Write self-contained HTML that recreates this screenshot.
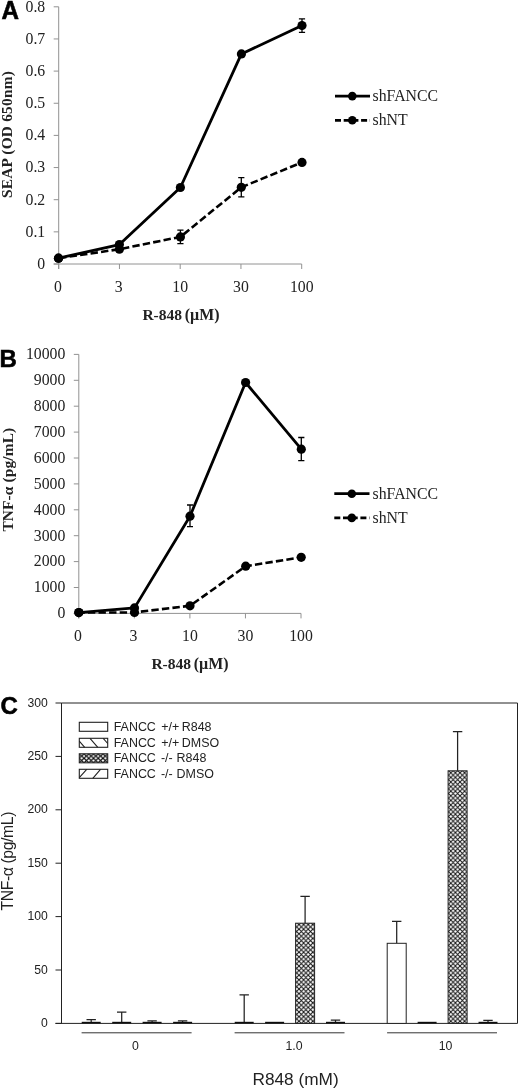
<!DOCTYPE html><html><head><meta charset="utf-8"><style>html,body{margin:0;padding:0;background:#fff;overflow:hidden}svg{display:block}text{font-family:"Liberation Serif",serif;fill:#222}.s{font-family:"Liberation Sans",sans-serif}</style></head><body>
<svg width="520" height="1091" viewBox="0 0 520 1091">
<defs>
<pattern id="xh" width="4.6" height="4.6" patternUnits="userSpaceOnUse"><rect width="4.6" height="4.6" fill="#fff"/><path d="M0 0L4.6 4.6M4.6 0L0 4.6" stroke="#111" stroke-width="1"/></pattern>
<pattern id="xh2" x="79.3" y="753.8" width="4.73" height="4.5" patternUnits="userSpaceOnUse"><rect width="4.73" height="4.5" fill="#fff"/><path d="M0 0L4.73 4.5M4.73 0L0 4.5" stroke="#111" stroke-width="1.15"/></pattern>
<filter id="bl" x="0" y="0" width="520" height="1091" filterUnits="userSpaceOnUse"><feGaussianBlur stdDeviation="0.35"/></filter>
</defs>
<g filter="url(#bl)"><rect width="520" height="1091" fill="#fff"/>
<path d="M58.7 6.800000000000011V269.0M53.7 264.0H301.7" stroke="#929292" stroke-width="1" fill="none"/>
<path d="M53.7 264.00H58.7M53.7 231.85H58.7M53.7 199.70H58.7M53.7 167.55H58.7M53.7 135.40H58.7M53.7 103.25H58.7M53.7 71.10H58.7M53.7 38.95H58.7M53.7 6.80H58.7M58.70 264.0V269.0M119.45 264.0V269.0M180.20 264.0V269.0M240.95 264.0V269.0M301.70 264.0V269.0" stroke="#929292" stroke-width="1" fill="none"/>
<text x="45.2" y="268.80" font-size="15.75" text-anchor="end">0</text>
<text x="45.2" y="236.65" font-size="15.75" text-anchor="end">0.1</text>
<text x="45.2" y="204.50" font-size="15.75" text-anchor="end">0.2</text>
<text x="45.2" y="172.35" font-size="15.75" text-anchor="end">0.3</text>
<text x="45.2" y="140.20" font-size="15.75" text-anchor="end">0.4</text>
<text x="45.2" y="108.05" font-size="15.75" text-anchor="end">0.5</text>
<text x="45.2" y="75.90" font-size="15.75" text-anchor="end">0.6</text>
<text x="45.2" y="43.75" font-size="15.75" text-anchor="end">0.7</text>
<text x="45.2" y="11.60" font-size="15.75" text-anchor="end">0.8</text>
<text x="57.90" y="291.6" font-size="15.75" text-anchor="middle">0</text>
<text x="118.65" y="291.6" font-size="15.75" text-anchor="middle">3</text>
<text x="180.20" y="291.6" font-size="15.75" text-anchor="middle">10</text>
<text x="240.95" y="291.6" font-size="15.75" text-anchor="middle">30</text>
<text x="301.70" y="291.6" font-size="15.75" text-anchor="middle">100</text>
<path d="M58.5 258.2L119.4 249.2L180.4 236.9L241.3 187.3L302.0 162.4" stroke="#000" stroke-width="2.6" fill="none" stroke-linejoin="round" stroke-dasharray="7.4 3.2" stroke-dashoffset="10"/>
<path d="M180.4 230.2V243.7M177.3 230.2h6.2M177.3 243.7h6.2" stroke="#000" stroke-width="1.3" fill="none"/>
<path d="M241.3 177.7V196.8M238.20000000000002 177.7h6.2M238.20000000000002 196.8h6.2" stroke="#000" stroke-width="1.3" fill="none"/>
<circle cx="58.5" cy="258.2" r="4.6" fill="#000"/>
<circle cx="119.4" cy="249.2" r="4.6" fill="#000"/>
<circle cx="180.4" cy="236.9" r="4.6" fill="#000"/>
<circle cx="241.3" cy="187.3" r="4.6" fill="#000"/>
<circle cx="302.0" cy="162.4" r="4.6" fill="#000"/>
<path d="M58.5 258.2L119.4 244.6L180.4 187.5L241.4 53.9L302.0 25.5" stroke="#000" stroke-width="2.8" fill="none" stroke-linejoin="round"/>
<path d="M302.0 18.8V32.3M298.9 18.8h6.2M298.9 32.3h6.2" stroke="#000" stroke-width="1.3" fill="none"/>
<circle cx="58.5" cy="258.2" r="4.6" fill="#000"/>
<circle cx="119.4" cy="244.6" r="4.6" fill="#000"/>
<circle cx="180.4" cy="187.5" r="4.6" fill="#000"/>
<circle cx="241.4" cy="53.9" r="4.6" fill="#000"/>
<circle cx="302.0" cy="25.5" r="4.6" fill="#000"/>
<path d="M335 96.1H370" stroke="#000" stroke-width="2.7"/>
<circle cx="352.3" cy="96.1" r="4.3" fill="#000"/>
<text x="372.5" y="101.1" font-size="15.8">shFANCC</text>
<path d="M335 120.3H370" stroke="#000" stroke-width="2.7" stroke-dasharray="6 2.7"/>
<circle cx="352.3" cy="120.3" r="4.3" fill="#000"/>
<text x="372.5" y="125.3" font-size="15.8">shNT</text>
<text transform="translate(1.4 18.6) scale(1 1.045)" font-size="24.2" font-weight="bold" class="s" style="fill:#000" stroke="#000" stroke-width="0.55">A</text>
<text transform="translate(12 198) rotate(-90)" font-size="15.4" font-weight="bold" letter-spacing="0.2">SEAP (OD 650nm)</text>
<text x="142.4" y="320" font-size="15.55" font-weight="bold">R-848</text><text x="219.5" y="320" font-size="15.9" font-weight="bold" text-anchor="end">(µM)</text>
<path d="M78.8 354.4V618.4M73.8 613.4H301.0" stroke="#929292" stroke-width="1" fill="none"/>
<path d="M73.8 613.40H78.8M73.8 587.50H78.8M73.8 561.60H78.8M73.8 535.70H78.8M73.8 509.80H78.8M73.8 483.90H78.8M73.8 458.00H78.8M73.8 432.10H78.8M73.8 406.20H78.8M73.8 380.30H78.8M73.8 354.40H78.8M78.80 613.4V618.4M134.35 613.4V618.4M189.90 613.4V618.4M245.45 613.4V618.4M301.00 613.4V618.4" stroke="#929292" stroke-width="1" fill="none"/>
<text x="65.3" y="618.20" font-size="15.75" text-anchor="end">0</text>
<text x="65.3" y="592.30" font-size="15.75" text-anchor="end">1000</text>
<text x="65.3" y="566.40" font-size="15.75" text-anchor="end">2000</text>
<text x="65.3" y="540.50" font-size="15.75" text-anchor="end">3000</text>
<text x="65.3" y="514.60" font-size="15.75" text-anchor="end">4000</text>
<text x="65.3" y="488.70" font-size="15.75" text-anchor="end">5000</text>
<text x="65.3" y="462.80" font-size="15.75" text-anchor="end">6000</text>
<text x="65.3" y="436.90" font-size="15.75" text-anchor="end">7000</text>
<text x="65.3" y="411.00" font-size="15.75" text-anchor="end">8000</text>
<text x="65.3" y="385.10" font-size="15.75" text-anchor="end">9000</text>
<text x="65.3" y="359.20" font-size="15.75" text-anchor="end">10000</text>
<text x="78.00" y="641.0" font-size="15.75" text-anchor="middle">0</text>
<text x="133.55" y="641.0" font-size="15.75" text-anchor="middle">3</text>
<text x="189.90" y="641.0" font-size="15.75" text-anchor="middle">10</text>
<text x="245.45" y="641.0" font-size="15.75" text-anchor="middle">30</text>
<text x="301.00" y="641.0" font-size="15.75" text-anchor="middle">100</text>
<path d="M78.8 612.6L134.5 612.4L190.0 605.8L245.7 566.2L301.2 557.3" stroke="#000" stroke-width="2.6" fill="none" stroke-linejoin="round" stroke-dasharray="7.4 3.2" stroke-dashoffset="1.5"/>
<circle cx="78.8" cy="612.6" r="4.6" fill="#000"/>
<circle cx="134.5" cy="612.4" r="4.6" fill="#000"/>
<circle cx="190.0" cy="605.8" r="4.6" fill="#000"/>
<circle cx="245.7" cy="566.2" r="4.6" fill="#000"/>
<circle cx="301.2" cy="557.3" r="4.6" fill="#000"/>
<path d="M78.8 612.6L134.5 607.9L190.0 516.2L245.6 382.5L301.3 449.2" stroke="#000" stroke-width="2.8" fill="none" stroke-linejoin="round"/>
<path d="M190 505V526.7M187.0 505h6M187.0 526.7h6" stroke="#000" stroke-width="1.3" fill="none"/>
<path d="M301.3 437.5V460.6M298.2 437.5h6.2M298.2 460.6h6.2" stroke="#000" stroke-width="1.3" fill="none"/>
<circle cx="78.8" cy="612.6" r="4.6" fill="#000"/>
<circle cx="134.5" cy="607.9" r="4.6" fill="#000"/>
<circle cx="190.0" cy="516.2" r="4.6" fill="#000"/>
<circle cx="245.6" cy="382.5" r="4.6" fill="#000"/>
<circle cx="301.3" cy="449.2" r="4.6" fill="#000"/>
<path d="M334.3 493.7H369.5" stroke="#000" stroke-width="2.7"/>
<circle cx="351.8" cy="493.7" r="4.3" fill="#000"/>
<text x="372.5" y="498.7" font-size="15.8">shFANCC</text>
<path d="M334.3 517.9H369.5" stroke="#000" stroke-width="2.7" stroke-dasharray="6 2.7"/>
<circle cx="351.8" cy="517.9" r="4.3" fill="#000"/>
<text x="372.5" y="522.9" font-size="15.8">shNT</text>
<text x="-0.6" y="366.8" font-size="24" font-weight="bold" class="s" style="fill:#000" stroke="#000" stroke-width="0.55">B</text>
<text transform="translate(12.6 531.6) rotate(-90)" font-size="15.4" font-weight="bold" letter-spacing="0.13">TNF-α (pg/mL)</text>
<text x="151.4" y="669" font-size="15.55" font-weight="bold">R-848</text><text x="228.5" y="669" font-size="15.9" font-weight="bold" text-anchor="end">(µM)</text>
<path d="M61.5 1023.4V703H517.5V1023.4" stroke="#222" stroke-width="1" fill="none"/>
<path d="M55.5 1023.4H517.5" stroke="#222" stroke-width="1" fill="none"/>
<text class="s" x="47.9" y="1026.90" font-size="12.2" text-anchor="end">0</text>
<text class="s" x="47.9" y="973.50" font-size="12.2" text-anchor="end">50</text>
<text class="s" x="47.9" y="920.10" font-size="12.2" text-anchor="end">100</text>
<text class="s" x="47.9" y="866.70" font-size="12.2" text-anchor="end">150</text>
<text class="s" x="47.9" y="813.30" font-size="12.2" text-anchor="end">200</text>
<text class="s" x="47.9" y="759.90" font-size="12.2" text-anchor="end">250</text>
<text class="s" x="47.9" y="706.50" font-size="12.2" text-anchor="end">300</text>
<path d="M55.5 1023.40H61.5M55.5 970.00H61.5M55.5 916.60H61.5M55.5 863.20H61.5M55.5 809.80H61.5M55.5 756.40H61.5M55.5 703.00H61.5" stroke="#222" stroke-width="1" fill="none"/>
<text x="0.5" y="714.1" font-size="24" font-weight="bold" class="s" style="fill:#000" stroke="#000" stroke-width="0.55">C</text>
<text class="s" transform="translate(13.4 910.6) rotate(-90)" font-size="15.8" letter-spacing="-0.4">TNF-α (pg/mL)</text>
<text class="s" x="295.6" y="1085.3" font-size="17.25" text-anchor="middle">R848 (mM)</text>
<path d="M91.2 1022.7V1019.5M86.5 1019.5h9.4" stroke="#222" stroke-width="1.25" fill="none"/>
<rect x="81.7" y="1021.8" width="19.0" height="1.6" fill="#111"/>
<path d="M121.7 1022.7V1012.2M117.0 1012.2h9.4" stroke="#222" stroke-width="1.25" fill="none"/>
<rect x="112.2" y="1021.8" width="19.0" height="1.6" fill="#111"/>
<path d="M152.1 1022.7V1020.8M147.4 1020.8h9.4" stroke="#222" stroke-width="1.25" fill="none"/>
<rect x="142.6" y="1021.8" width="19.0" height="1.6" fill="#111"/>
<path d="M182.6 1022.7V1020.8M177.9 1020.8h9.4" stroke="#222" stroke-width="1.25" fill="none"/>
<rect x="173.1" y="1021.8" width="19.0" height="1.6" fill="#111"/>
<path d="M81.6 1032.8H191.6" stroke="#333" stroke-width="1"/>
<path d="M244.2 1022.7V994.8M239.5 994.8h9.4" stroke="#222" stroke-width="1.25" fill="none"/>
<rect x="234.7" y="1021.8" width="19.0" height="1.6" fill="#111"/>
<rect x="265.1" y="1021.8" width="19.0" height="1.6" fill="#111"/>
<path d="M305.1 923.2V896.3M300.4 896.3h9.4" stroke="#222" stroke-width="1.25" fill="none"/>
<rect x="295.6" y="923.2" width="19.0" height="100.2" fill="url(#xh)" stroke="#222" stroke-width="1"/>
<path d="M335.5 1022.7V1020M330.8 1020h9.4" stroke="#222" stroke-width="1.25" fill="none"/>
<rect x="326.0" y="1021.8" width="19.0" height="1.6" fill="#111"/>
<path d="M234.6 1032.8H344.5" stroke="#333" stroke-width="1"/>
<path d="M396.7 943.3V921.3M392.0 921.3h9.4" stroke="#222" stroke-width="1.25" fill="none"/>
<rect x="387.2" y="943.3" width="19.0" height="80.1" fill="#fff" stroke="#222" stroke-width="1"/>
<rect x="417.6" y="1021.8" width="19.0" height="1.6" fill="#111"/>
<path d="M457.6 770.8V731.5M452.9 731.5h9.4" stroke="#222" stroke-width="1.25" fill="none"/>
<rect x="448.1" y="770.8" width="19.0" height="252.6" fill="url(#xh)" stroke="#222" stroke-width="1"/>
<path d="M488.0 1022.7V1020.3M483.3 1020.3h9.4" stroke="#222" stroke-width="1.25" fill="none"/>
<rect x="478.5" y="1021.8" width="19.0" height="1.6" fill="#111"/>
<path d="M387.1 1032.8H497.0" stroke="#333" stroke-width="1"/>
<text class="s" x="135.5" y="1050.2" font-size="12.3" text-anchor="middle">0</text>
<text class="s" x="294" y="1050.2" font-size="12.3" text-anchor="middle">1.0</text>
<text class="s" x="445.5" y="1050.2" font-size="12.3" text-anchor="middle">10</text>
<rect x="79.3" y="722.3" width="28.4" height="9" fill="#fff" stroke="#222" stroke-width="1.1"/>
<text class="s" x="113.7" y="730.8" font-size="12.45">FANCC</text>
<text class="s" x="161.3" y="730.8" font-size="12.45">+/+</text>
<text class="s" x="181.8" y="730.8" font-size="12.45">R848</text>
<rect x="79.3" y="738.3" width="28.4" height="9" fill="#fff" stroke="#222" stroke-width="1.1"/>
<path d="M79.3 741.0999999999999L84.7 747.3M90.0 738.3L97.8 747.3M103.19999999999999 738.3L107.69999999999999 743.5" stroke="#222" stroke-width="1.1" fill="none"/>
<text class="s" x="113.7" y="746.6" font-size="12.45">FANCC</text>
<text class="s" x="161.3" y="746.6" font-size="12.45">+/+</text>
<text class="s" x="181.8" y="746.6" font-size="12.45">DMSO</text>
<rect x="79.3" y="753.8" width="28.4" height="9" fill="url(#xh2)" stroke="#222" stroke-width="1.1"/>
<text class="s" x="113.7" y="762.0" font-size="12.45">FANCC</text>
<text class="s" x="160.9" y="762.0" font-size="12.45">-/-</text>
<text class="s" x="176.6" y="762.0" font-size="12.45">R848</text>
<rect x="79.3" y="769.3" width="28.4" height="9" fill="#fff" stroke="#222" stroke-width="1.1"/>
<path d="M79.3 777.5999999999999L86.7 769.3M92.8 778.3L100.5 769.3" stroke="#222" stroke-width="1.1" fill="none"/>
<text class="s" x="113.7" y="777.7" font-size="12.45">FANCC</text>
<text class="s" x="160.9" y="777.7" font-size="12.45">-/-</text>
<text class="s" x="176.6" y="777.7" font-size="12.45">DMSO</text>
</g></svg></body></html>
